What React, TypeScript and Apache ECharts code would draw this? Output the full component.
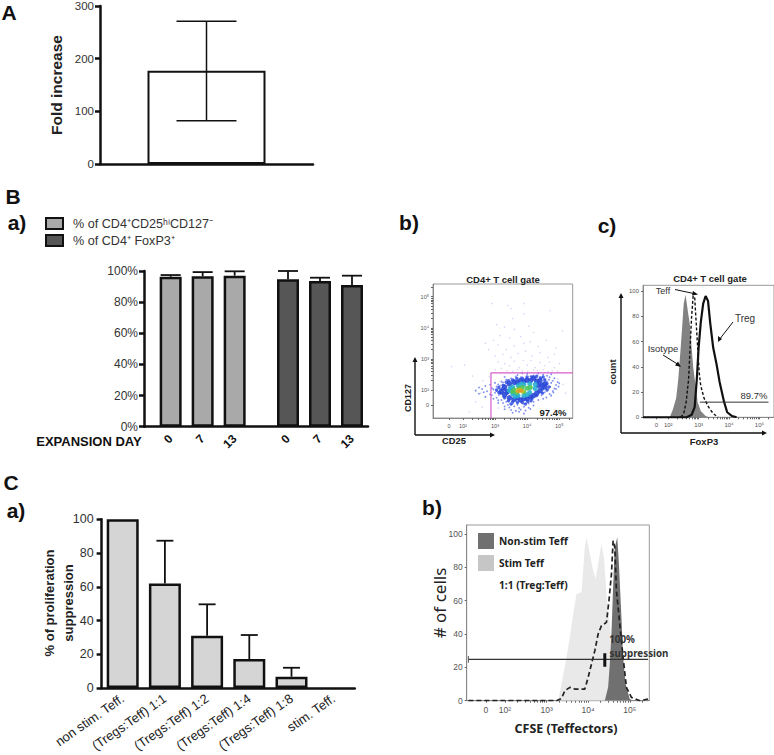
import React, { useEffect, useRef } from "react";
import * as echarts from "echarts";

const FONT = "'Liberation Sans', Arial, sans-serif";
const NOTO = "'Noto Sans', sans-serif";

// --- Panel A
const foldMean = [177];
const foldErr = [[0, 82, 271]];
const foldTicks = { min: 0, max: 300, step: 100 };

// --- Panel B a)
const expansionDays = ["0", "7", "13"];
const pctCD25 = [96.3, 96.7, 97];
const pctCD25Top = [97.4, 99.3, 99.8];
const pctFoxP3 = [94.7, 93.6, 91];
const pctFoxP3Top = [100, 95.7, 97];
const nameCD25 = "% of CD4⁺CD25ʰⁱCD127⁻";
const nameFoxP3 = "% of CD4⁺ FoxP3⁺";

// --- Panel B b) flow events [log10 CD25, log10 CD127]
const eventsPale = [
  [3.4,4.72],[3.9,4.78],[3.5,4.62],[4.72,4.55],[3.9,4.45],[2.9,4.78],[3.05,4.1],[3.3,4.02],[3.55,4.3],[3.6,3.95],
  [4.05,4.05],[4.2,3.85],[3.15,3.75],[3.45,3.68],[3.8,3.72],[2.95,3.6],[2.7,3.5],[2.8,3.3],[3.1,3.45],[3.35,3.3],
  [3.6,3.42],[3.9,3.5],[4.1,3.55],[4.35,3.4],[4.6,3.6],[4.9,3.35],[5.1,3.9],[3.0,3.1],[3.25,3.15],[3.5,3.05],
  [3.72,3.18],[3.95,3.25],[4.15,3.1],[4.4,3.2],[4.65,3.05],[4.85,3.15],[3.1,2.9],[3.3,2.85],[3.45,2.78],[3.6,2.92],
  [3.75,2.72],[3.88,2.95],[4.0,2.8],[4.12,2.95],[4.25,2.72],[4.4,2.88],[4.55,2.78],[4.7,2.9],[4.85,2.72],[5.0,2.85],
  [2.3,2.45],[1.65,2.75],[2.05,2.8],[3.0,2.65],[3.2,2.7],[3.38,2.62],[3.55,2.6],[3.7,2.65],[3.85,2.62],[4.02,2.6],
  [4.2,2.65],[4.32,2.62],[4.5,2.65],[4.65,2.6],[4.78,2.62],[4.95,2.6],[2.55,1.9],[2.2,1.3],[2.62,2.3],[2.82,2.42],
  [2.4,1.62],[2.6,1.45],[4.95,2.35],[5.12,2.18],[5.2,1.9],[4.6,1.35],[3.1,1.42],
];
const eventsBlue = [
  [4.0,2.52],[4.2,2.47],[4.35,2.53],[4.5,2.49],[4.62,2.46],[4.75,2.51],[3.7,2.48],[3.85,2.54],
  [3.5,2.37],[3.65,2.43],[3.8,2.41],[3.95,2.36],[4.1,2.44],[4.25,2.39],[4.4,2.42],[4.55,2.35],[4.7,2.41],[4.85,2.38],[3.3,2.42],
  [3.2,2.27],[3.35,2.33],[3.5,2.29],[3.6,2.31],[3.75,2.34],[4.62,2.27],[4.68,2.33],[4.8,2.3],[4.95,2.26],
  [2.85,2.17],[3.0,2.23],[3.1,2.18],[3.25,2.24],[3.4,2.22],[4.6,2.18],[4.75,2.23],[4.9,2.16],[5.0,2.22],
  [2.5,2.08],[2.7,2.13],[2.9,2.06],[3.05,2.11],[3.15,2.14],[3.3,2.07],[4.72,2.1],[4.85,2.05],[4.98,2.11],
  [2.4,1.98],[2.6,2.03],[2.75,1.96],[2.95,2.02],[3.05,1.97],[3.15,2.01],[4.65,2.02],[4.8,1.97],[4.9,2.03],
  [2.5,1.88],[2.65,1.93],[2.85,1.86],[3.0,1.91],[3.12,1.84],[3.25,1.78],[4.55,1.93],[4.7,1.87],[4.82,1.92],
  [2.7,1.78],[2.9,1.83],[3.05,1.75],[3.2,1.68],[3.35,1.62],[4.45,1.83],[4.6,1.76],[4.75,1.82],
  [2.95,1.72],[3.1,1.67],[3.25,1.58],[3.4,1.52],[3.55,1.56],[3.7,1.53],[3.9,1.55],[4.05,1.57],[4.2,1.62],[4.35,1.68],[4.5,1.72],
  [3.1,1.58],[3.3,1.47],[3.45,1.44],[3.6,1.48],[3.75,1.42],[3.9,1.46],[4.05,1.43],[4.2,1.5],
  [3.3,1.38],[3.5,1.36],[3.65,1.33],[3.8,1.37],[3.95,1.34],[4.1,1.39],[3.55,1.27],[3.75,1.3],[3.9,1.24],
];
const eventsMidBlue = [
  [3.05,2.0],[3.12,2.08],[3.18,1.9],[3.25,2.15],[3.12,1.92],[3.35,2.25],[3.3,1.75],[3.42,2.3],[3.42,1.65],[3.55,2.32],
  [3.55,1.62],[3.68,2.37],[3.7,1.6],[3.85,2.38],[3.85,1.6],[4.0,2.42],[4.02,1.63],[4.15,2.42],[4.15,1.72],[4.3,2.44],
  [4.3,1.82],[4.42,2.38],[4.48,1.9],[4.55,2.32],[4.62,2.0],[4.62,2.2],[4.68,2.1],[4.5,2.42],[3.22,2.03],[3.5,1.55],
  [3.95,1.55],[3.3,2.02],[3.38,1.9],[4.48,2.03],[4.12,1.65],
];
const eventsDarkBlue = [
  [3.2,1.95],[3.3,2.1],[3.3,1.85],[3.45,2.2],[3.45,1.75],[3.6,2.25],[3.6,1.7],[3.8,2.3],[3.8,1.68],[4.0,2.32],
  [4.0,1.72],[4.2,2.38],[4.2,1.82],[4.4,2.3],[4.4,1.98],[4.55,2.2],[4.55,2.1],[4.35,2.15],
  [3.7,2.24],[3.9,2.28],[3.9,1.72],[4.1,2.3],[4.1,1.78],[4.3,2.28],[4.3,1.9],[3.38,1.95],[3.7,1.75],[4.45,2.15],
];
const eventsCyan = [
  [3.45,1.98],[3.55,2.1],[3.55,1.88],[3.72,2.14],[3.72,1.82],[3.9,2.18],[3.9,1.82],[4.08,2.2],[4.08,1.92],[4.25,2.18],[4.25,2.05],
  [3.62,1.8],[3.82,2.2],[4.0,1.85],[3.48,2.06],
];
const eventsGreen = [[3.6,2.0],[3.68,1.92],[3.75,2.05],[3.85,2.08],[3.9,1.94],[4.0,2.06],[3.55,1.95],[4.1,2.08]];
const eventsYellow = [[3.7,1.98],[3.78,2.0],[3.85,1.96]];
const eventsOrange = [[3.76,1.98],[3.82,1.98],[3.72,1.95]];
const gateCD = [[2.875,1.1],[2.875,2.55],[5.42,2.55]];

// --- Panel B c) histograms [log10 FoxP3, count]
const isotypeCurve = [
  [2.05,0],[2.15,6],[2.26,15],[2.33,30],[2.41,55],[2.46,72],[2.51,90],[2.57,97],[2.64,85],[2.72,72],[2.77,55],
  [2.82,40],[2.9,25],[2.97,12],[3.07,5],[3.23,1],[3.33,0],
];
const teffCurve = [
  [2.41,0],[2.51,3],[2.59,12],[2.67,30],[2.72,55],[2.77,80],[2.82,96],[2.87,95],[2.92,75],[2.97,55],[3.02,35],
  [3.07,25],[3.18,15],[3.33,8],[3.48,3],[3.64,0],
];
const tregCurve = [
  [1.17,0],[2.61,0],[2.77,2],[2.87,8],[2.94,30],[3.0,55],[3.07,75],[3.15,90],[3.23,96],[3.31,92],[3.38,75],[3.48,55],
  [3.59,42],[3.69,28],[3.84,12],[3.94,4],[4.1,1],[4.25,0],
];
const foxGate = [[3.04,12],[5.3,12]];

// --- Panel C a)
const suppressionCats = ["non stim. Teff.", "(Tregs:Teff) 1:1", "(Tregs:Teff) 1:2", "(Tregs:Teff) 1:4", "(Tregs:Teff) 1:8", "stim. Teff."];
const suppressionMean = [100, 62, 31, 17.2, 6.7, null];
const suppressionTop = [null, 87.3, 49.6, 31.4, 12, null];

// --- Panel C b) histograms [log10 CFSE, # of cells]
const stimCurve = [
  [3.28,0],[3.36,10],[3.48,26],[3.56,38],[3.64,52],[3.72,64],[3.84,65],[3.92,92],[3.96,98],[4.04,88],[4.12,78],[4.18,73],
  [4.24,82],[4.32,94],[4.38,86],[4.44,64],[4.52,46],[4.6,26],[4.84,2],[5.0,0],
];
const nonStimCurve = [
  [4.4,0],[4.48,8],[4.52,22],[4.56,40],[4.6,68],[4.64,92],[4.7,98],[4.74,82],[4.8,50],[4.84,26],[4.9,10],[5.0,1],[5.08,0],
];
const ratioCurve = [
  [1.12,0],[3.24,0],[3.36,1.4],[3.44,6],[3.56,8],[3.68,7],[3.92,7],[4.0,14],[4.08,22],[4.16,30],[4.24,40],[4.32,45],[4.44,47],
  [4.5,60],[4.56,76],[4.6,96],[4.64,92],[4.68,66],[4.76,46],[4.84,26],[4.92,8],[5.04,2],[5.24,0],[5.44,1],
];
const cfseGate = [[1.12,24.8],[5.44,24.8]];
const cfseMarker = [[4.4,20.4],[4.4,28.4]];
const cfseEndCap = [[1.12,22.8],[1.12,26.8]];

const SUP: Record<number, string> = { 2: "10²", 3: "10³", 4: "10⁴", 5: "10⁵" };
const decades = [2, 3, 4, 5];
const minorLogs = [0.301, 0.477, 0.602, 0.699, 0.778, 0.845, 0.903, 0.954];
const logTicks = (hi: number) => {
  const out: number[] = [];
  for (const d of decades) {
    out.push(d);
    for (const m of minorLogs) if (d + m < hi) out.push(d + m);
  }
  return out;
};

// Biexponential axis: a "0" label sits below the first decade.
function flowX(gridIndex: number, min: number, max: number, zero: number, size: number, color = "#555") {
  return {
    type: "value", gridIndex, min, max, splitLine: { show: false },
    axisLine: { show: true, onZero: false, lineStyle: { color: "#888", width: 1 } },
    axisTick: { show: true, length: 2, inside: false, customValues: [zero, ...logTicks(max)], lineStyle: { color: "#666", width: 1 } },
    axisLabel: {
      show: true, customValues: [zero, ...decades], fontSize: size, color, margin: 5, fontFamily: FONT,
      formatter: (v: number) => (v === zero ? "0" : SUP[v] ?? ""),
    },
  };
}

function slotted<T>(values: T[], slots: number[], n: number, empty: any = null): (T | any)[] {
  const out = new Array(n).fill(empty);
  slots.forEach((s, i) => { out[s] = values[i]; });
  return out;
}

function errorSeries(name: string, x: number, y: number, data: any[], capW: number, lw = 1.8) {
  return {
    type: "custom", name, xAxisIndex: x, yAxisIndex: y, z: 5, clip: false, data,
    encode: { x: 0, y: [1, 2] },
    renderItem: (_p: any, api: any) => {
      const lo = api.coord([api.value(0), api.value(1)]);
      const hi = api.coord([api.value(0), api.value(2)]);
      const st = { stroke: "#111", lineWidth: lw };
      const children: any[] = [
        { type: "line", shape: { x1: lo[0], y1: lo[1], x2: hi[0], y2: hi[1] }, style: st },
        { type: "line", shape: { x1: hi[0] - capW / 2, y1: hi[1], x2: hi[0] + capW / 2, y2: hi[1] }, style: st },
      ];
      if (api.value(3) === 1) {
        children.push({ type: "line", shape: { x1: lo[0] - capW / 2, y1: lo[1], x2: lo[0] + capW / 2, y2: lo[1] }, style: st });
      }
      return { type: "group", children };
    },
  };
}

function txt(text: string, x: number, y: number, fontSize: number, fontWeight: any = "normal", fill = "#222", family = FONT, rotation = 0, lineHeight?: number) {
  return {
    type: "text", x, y, rotation, z: 20, silent: true,
    style: { text, fontSize, fontWeight, fill, fontFamily: family, align: "center", verticalAlign: "middle", ...(lineHeight ? { lineHeight } : {}) },
  };
}
const ln = (x1: number, y1: number, x2: number, y2: number, stroke = "#111", lineWidth = 1.4) => ({
  type: "line", z: 19, silent: true, shape: { x1, y1, x2, y2 }, style: { stroke, lineWidth },
});
const head = (pts: number[][], fill = "#111") => ({ type: "polygon", z: 19, silent: true, shape: { points: pts }, style: { fill } });

const scatter = (name: string, data: number[][], color: string, size: number, opacity = 0.9) => ({
  type: "scatter", name, xAxisIndex: 2, yAxisIndex: 2, data, symbolSize: size, itemStyle: { color, opacity }, silent: true,
});
const curve = (name: string, x: number, data: number[][], extra: any) => ({
  type: "line", name, xAxisIndex: x, yAxisIndex: x, data, showSymbol: false, symbol: "none", silent: true, ...extra,
});

const SLOTS_B1 = [2, 5, 8];
const SLOTS_B2 = [13, 16, 19];
const N_B = 21;

function buildOption() {
  const bCats = slotted([...expansionDays, ...expansionDays], [...SLOTS_B1, ...SLOTS_B2], N_B, "");
  const hasLabel = (_i: number, v: string) => v !== "";
  const black = { color: "#111", width: 2.5 };

  const grid = [
    { left: 100, top: 4.7, width: 213, height: 159.3 },
    { left: 144, top: 271, width: 224, height: 155.7 },
    { left: 433, top: 284, width: 139.7, height: 134, show: true, borderColor: "#999", borderWidth: 1 },
    { left: 643, top: 285.3, width: 140, height: 132, show: true, borderColor: "#999", borderWidth: 1 },
    { left: 101.6, top: 519.3, width: 253.2, height: 168.7 },
    { left: 466.7, top: 525, width: 182.6, height: 175.7, show: true, borderColor: "#999", borderWidth: 1 },
  ];

  const xAxis = [
    {
      type: "category", gridIndex: 0, data: [""], axisLine: { lineStyle: black },
      axisTick: { alignWithLabel: true, length: 2, lineStyle: { color: "#333", width: 1 } }, axisLabel: { show: false },
    },
    {
      type: "category", gridIndex: 1, data: bCats, axisLine: { lineStyle: black },
      axisTick: { alignWithLabel: true, interval: hasLabel, length: 5, lineStyle: black },
      axisLabel: { interval: hasLabel, rotate: 45, fontSize: 12, fontWeight: "bold", color: "#111", margin: 10, fontFamily: FONT },
    },
    flowX(2, 1.07, 5.42, 1.57, 5.5),
    flowX(3, 1.17, 5.48, 1.61, 6),
    {
      type: "category", gridIndex: 4, data: suppressionCats, axisLine: { lineStyle: black },
      axisTick: { alignWithLabel: true, length: 5, lineStyle: black },
      axisLabel: { interval: 0, rotate: 35, fontSize: 13, color: "#222", margin: 9, fontFamily: FONT },
    },
    flowX(5, 1.08, 5.47, 1.54, 8.5),
  ];

  const barY = (gridIndex: number, max: number, step: number, size: number, extra: any = {}) => ({
    type: "value", gridIndex, min: 0, max, interval: step, splitLine: { show: false },
    axisLine: { show: true, lineStyle: black },
    axisTick: { show: true, length: 5, lineStyle: black },
    axisLabel: { fontSize: size, color: "#333", margin: 6, fontFamily: FONT },
    ...extra,
  });
  const flowY = (gridIndex: number, min: number, max: number, ticks: number[], fmt: (v: number) => string, size: number, minor?: number[]) => ({
    type: "value", gridIndex, min, max, splitLine: { show: false },
    axisLine: { show: true, lineStyle: { color: "#888", width: 1 } },
    axisTick: { show: true, length: 2, customValues: minor ?? ticks, lineStyle: { color: "#666", width: 1 } },
    axisLabel: { customValues: ticks, formatter: fmt, fontSize: size, color: "#555", margin: 4, fontFamily: FONT },
  });

  const yAxis = [
    barY(0, foldTicks.max, foldTicks.step, 11.5, {
      name: "Fold increase", nameLocation: "middle", nameRotate: 90, nameGap: 36,
      nameTextStyle: { fontSize: 15.5, fontWeight: "bold", color: "#222", fontFamily: FONT },
    }),
    barY(1, 100, 20, 12, { axisLabel: { fontSize: 12, color: "#333", margin: 6, fontFamily: FONT, formatter: "{value}%" } }),
    flowY(2, 1.1, 5.41, [1.52, 2, 3, 4, 5], (v) => (v === 1.52 ? "0" : SUP[v] ?? ""), 5.5, [1.52, ...logTicks(5.41)]),
    flowY(3, 0, 104.5, [0, 20, 40, 60, 80, 100], (v) => String(v), 6),
    barY(4, 100, 20, 12.5, { axisLabel: { fontSize: 12.5, color: "#333", margin: 8, fontFamily: FONT } }),
    flowY(5, 0, 105.4, [0, 20, 40, 60, 80, 100], (v) => String(v), 8.5),
  ];

  const barStyle = (color: string, w = 2.5) => ({ color, borderColor: "#111", borderWidth: w });

  const series: any[] = [
    { type: "bar", name: "Fold increase", xAxisIndex: 0, yAxisIndex: 0, data: foldMean, barWidth: 118, itemStyle: barStyle("#fff", 2) },
    errorSeries("Fold increase SD", 0, 0, foldErr.map((e) => [...e, 1]), 60, 1.5),

    {
      type: "bar", name: nameCD25, xAxisIndex: 1, yAxisIndex: 1, barWidth: 22, barGap: "-100%",
      data: slotted(pctCD25, SLOTS_B1, N_B), itemStyle: barStyle("#a9a9a9"),
    },
    {
      type: "bar", name: nameFoxP3, xAxisIndex: 1, yAxisIndex: 1, barWidth: 22, barGap: "-100%",
      data: slotted(pctFoxP3, SLOTS_B2, N_B), itemStyle: barStyle("#565656"),
    },
    errorSeries("CD25 error", 1, 1, SLOTS_B1.map((s, i) => [s, pctCD25[i], pctCD25Top[i], 0]), 20),
    errorSeries("FoxP3 error", 1, 1, SLOTS_B2.map((s, i) => [s, pctFoxP3[i], pctFoxP3Top[i], 0]), 20),

    scatter("pale events", eventsPale, "#c3c3f2", 1.4, 0.8),
    scatter("blue events", eventsBlue, "#6a7cec", 1.8, 0.85),
    scatter("mid blue", eventsMidBlue, "#3a55e2", 3.4),
    scatter("core blue", eventsDarkBlue, "#2b48d8", 5.5),
    scatter("core cyan", eventsCyan, "#2bb0d0", 5),
    scatter("core green", eventsGreen, "#4cc35a", 5),
    scatter("core yellow", eventsYellow, "#c9c52a", 4.5),
    scatter("core orange", eventsOrange, "#e39a28", 3.5),
    curve("CD25 gate", 2, gateCD, { lineStyle: { color: "#d85cc8", width: 1.2 }, z: 4 }),

    curve("Isotype", 3, isotypeCurve, { lineStyle: { width: 0 }, areaStyle: { color: "#828282", opacity: 1 } }),
    curve("Teff", 3, teffCurve, { lineStyle: { color: "#111", width: 1.4, type: [3, 2] }, z: 3 }),
    curve("Treg", 3, tregCurve, { lineStyle: { color: "#111", width: 2.2 }, z: 4 }),
    curve("FoxP3 gate", 3, foxGate, { lineStyle: { color: "#333", width: 1 }, z: 4 }),

    {
      type: "bar", name: "% suppression", xAxisIndex: 4, yAxisIndex: 4, barWidth: 32,
      data: suppressionMean, itemStyle: barStyle("#d5d5d5"),
    },
    errorSeries("suppression error", 4, 4,
      suppressionMean.map((m, i) => [i, m, suppressionTop[i], 0]).filter((d) => d[2] != null), 17),

    curve("Stim Teff", 5, stimCurve, { lineStyle: { width: 0 }, areaStyle: { color: "#e9e9e9", opacity: 1 }, z: 2 }),
    curve("Non-stim Teff", 5, nonStimCurve, { lineStyle: { width: 0 }, areaStyle: { color: "#707070", opacity: 1 }, z: 3 }),
    curve("1:1 (Treg:Teff)", 5, ratioCurve, { lineStyle: { color: "#222", width: 1.7, type: [5, 3] }, z: 4 }),
    curve("CFSE gate", 5, cfseGate, { lineStyle: { color: "#333", width: 1.4 }, z: 5 }),
    curve("CFSE marker", 5, cfseMarker, { lineStyle: { color: "#111", width: 3 }, z: 6 }),
    curve("CFSE end cap", 5, cfseEndCap, { lineStyle: { color: "#555", width: 1 }, z: 5 }),
  ];

  const legend = [
    {
      data: [nameCD25, nameFoxP3], left: 45, top: 217, padding: 0, orient: "vertical", icon: "rect",
      itemWidth: 17, itemHeight: 11, itemGap: 4,
      selectedMode: false, textStyle: { fontSize: 12.6, color: "#333", fontFamily: FONT, padding: [0, 0, 0, 5] },
    },
    {
      data: [
        { name: "Non-stim Teff", icon: "rect", itemStyle: { color: "#707070", borderWidth: 0 } },
        { name: "Stim Teff", icon: "rect", itemStyle: { color: "#c6c6c6", borderWidth: 0 } },
        { name: "1:1 (Treg:Teff)", icon: "rect", itemStyle: { color: "rgba(0,0,0,0)", borderWidth: 0 }, lineStyle: { width: 0 } },
      ],
      left: 478, top: 533, padding: 0, orient: "vertical", itemWidth: 16, itemHeight: 16, itemGap: 6, selectedMode: false,
      textStyle: { fontSize: 10.2, fontWeight: "bold", color: "#222", fontFamily: NOTO },
    },
  ];

  const graphic = [
    txt("A", 9, 12, 21, "bold", "#111"),
    txt("B", 13, 196, 21, "bold", "#111"),
    txt("a)", 17, 222, 21, "bold", "#111"),
    txt("b)", 409, 222, 21, "bold", "#111"),
    txt("c)", 607, 225, 21, "bold", "#111"),
    txt("C", 11, 482, 21, "bold", "#111"),
    txt("a)", 16, 510, 21, "bold", "#111"),
    txt("b)", 432, 507, 21, "bold", "#111"),
    txt("EXPANSION DAY", 89, 441, 13, "bold", "#111"),
    txt("% of proliferation\nsuppression", 58.5, 603, 13, "bold", "#222", FONT, Math.PI / 2, 19),

    txt("CD4+ T cell gate", 503, 279, 9.5, "bold", "#222"),
    txt("CD127", 408, 398, 9, "bold", "#222", FONT, Math.PI / 2),
    txt("CD25", 454, 441, 9.3, "bold", "#222"),
    txt("97.4%", 553, 412.5, 9.5, "bold", "#222"),
    ln(415, 435, 415, 360), head([[415, 357], [412.5, 362], [417.5, 362]]),
    ln(415, 435, 492, 435), head([[495, 435], [490, 432.5], [490, 437.5]]),

    txt("CD4+ T cell gate", 710, 278, 9.5, "bold", "#222"),
    txt("count", 613, 372, 9.2, "bold", "#222", FONT, Math.PI / 2),
    txt("FoxP3", 704, 441, 9.5, "bold", "#222"),
    txt("Teff", 663, 290.7, 9, "normal", "#333"),
    txt("Treg", 745, 318, 10, "normal", "#333"),
    txt("Isotype", 663, 348, 9.5, "normal", "#333"),
    txt("89.7%", 754, 395, 9.5, "normal", "#333"),
    ln(621, 433, 621, 296), head([[621, 293], [618.5, 298], [623.5, 298]]),
    ln(621, 433, 764, 433), head([[767, 433], [762, 430.5], [762, 435.5]]),
    ln(675, 289.5, 696, 294, "#111", 1), head([[698, 294.5], [693, 291], [692, 295.5]]),
    ln(733, 322, 719, 340, "#111", 1), head([[718, 342], [718, 336], [722, 339]]),
    ln(663, 355, 679, 365, "#111", 1), head([[681, 367], [675, 365.5], [678, 361.5]]),

    txt("# of cells", 439, 603, 17, "normal", "#222", NOTO, Math.PI / 2),
    txt("CFSE (Teffectors)", 566, 728.5, 12.5, "bold", "#222", NOTO),
    txt("100%", 622, 639, 9.8, "bold", "#333", NOTO),
    txt("suppression", 639, 653, 9.8, "bold", "#333", NOTO),
  ];

  return { animation: false, textStyle: { fontFamily: FONT }, grid, xAxis, yAxis, series, legend, graphic };
}

export default function App() {
  const ref = useRef<HTMLDivElement>(null);
  useEffect(() => {
    const chart = echarts.init(ref.current!, undefined, { renderer: "svg" });
    chart.setOption(buildOption() as any);
    return () => chart.dispose();
  }, []);
  return <div ref={ref} style={{ position: "absolute", left: 0, top: 0, width: 774, height: 755, background: "#fff" }} />;
}
